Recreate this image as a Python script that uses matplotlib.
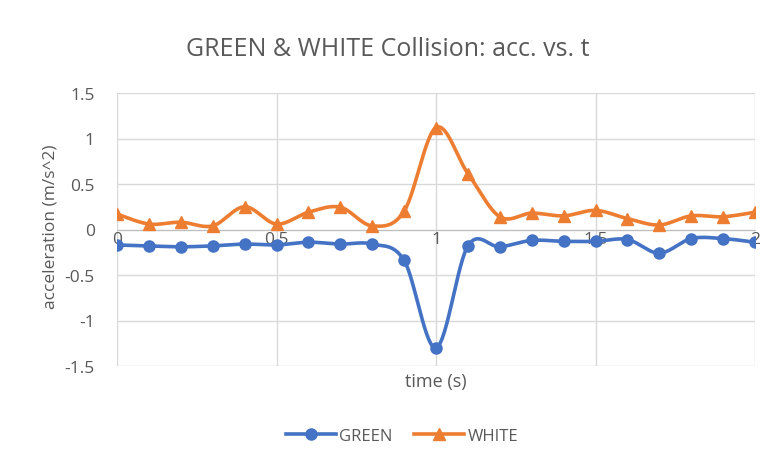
import numpy as np
import matplotlib
matplotlib.use("Agg")
import matplotlib.pyplot as plt

t = [0.0, 0.1, 0.2, 0.3, 0.4, 0.5, 0.6, 0.7, 0.8, 0.9, 1.0,
     1.1, 1.2, 1.3, 1.4, 1.5, 1.6, 1.7, 1.8, 1.9, 2.0]
green = [-0.17, -0.18, -0.19, -0.18, -0.16, -0.17, -0.14, -0.16, -0.16, -0.34, -1.30,
         -0.18, -0.19, -0.12, -0.13, -0.13, -0.11, -0.26, -0.10, -0.10, -0.14]
white = [0.17, 0.06, 0.08, 0.04, 0.25, 0.06, 0.19, 0.245, 0.04, 0.20, 1.12,
         0.615, 0.14, 0.18, 0.15, 0.21, 0.12, 0.05, 0.15, 0.14, 0.19]
xticks = [0, 0.5, 1, 1.5, 2]
xticklabels = ["0", "0.5", "1", "1.5", "2"]
yticks = [-1.5, -1, -0.5, 0, 0.5, 1, 1.5]
yticklabels = ["-1.5", "-1", "-0.5", "0", "0.5", "1", "1.5"]


def smooth(x, y, n=30):
    # Excel-like smoothing: cubic Bezier with Catmull-Rom control points
    x = np.asarray(x, float)
    y = np.asarray(y, float)
    xs, ys = [], []
    m = len(x)
    for i in range(m - 1):
        p0 = np.array([x[max(i - 1, 0)], y[max(i - 1, 0)]])
        p1 = np.array([x[i], y[i]])
        p2 = np.array([x[i + 1], y[i + 1]])
        p3 = np.array([x[min(i + 2, m - 1)], y[min(i + 2, m - 1)]])
        c1 = p1 + (p2 - p0) / 6.0
        c2 = p2 - (p3 - p1) / 6.0
        s = np.linspace(0, 1, n, endpoint=(i == m - 2))
        b = ((1 - s) ** 3)[:, None] * p1 + (3 * (1 - s) ** 2 * s)[:, None] * c1 \
            + (3 * (1 - s) * s ** 2)[:, None] * c2 + (s ** 3)[:, None] * p2
        xs.append(b[:, 0])
        ys.append(b[:, 1])
    return np.concatenate(xs), np.concatenate(ys)


plt.rcParams['font.family'] = ['Open Sans', 'DejaVu Sans']
grey = '#595959'
blue = '#4472C4'
orange = '#ED7D31'

fig = plt.figure(figsize=(7.69, 4.6), dpi=100)
ax = fig.add_axes([117 / 769, 1 - 367 / 460, (755 - 117) / 769, (367 - 94) / 460])

gx, gy = smooth(t, green)
wx, wy = smooth(t, white)
ax.plot(gx, gy, color=blue, lw=2.6, zorder=3, solid_capstyle='round')
ax.plot(t, green, 'o', color=blue, ms=8, zorder=4)
ax.plot(wx, wy, color=orange, lw=2.6, zorder=3, solid_capstyle='round')
ax.plot(t, white, '^', color=orange, ms=9, zorder=4)

# legend proxies
ax.plot([], [], '-o', color=blue, lw=2.6, ms=8, label='GREEN')
ax.plot([], [], '-^', color=orange, lw=2.6, ms=9, label='WHITE')

ax.set_xlim(0, 2)
ax.set_ylim(-1.5, 1.5)
ax.set_yticks(yticks)
ax.set_yticklabels(yticklabels)
ax.set_xticks(xticks)
ax.set_xticklabels(xticklabels)
ax.grid(True, color='#d9d9d9', lw=1)
ax.set_axisbelow(True)
for s in ax.spines.values():
    s.set_visible(False)
ax.spines['bottom'].set_visible(True)
ax.spines['bottom'].set_position(('data', 0))
ax.spines['bottom'].set_color('#bfbfbf')
ax.tick_params(axis='both', length=0, colors=grey, labelsize=12.5)
ax.tick_params(axis='x', pad=1)
ax.tick_params(axis='y', pad=16)

fig.text(51 / 769, 1 - 227 / 460, 'acceleration (m/s^2)', rotation=90, ha='center',
         va='center', color=grey, fontsize=12.5)
fig.text(436 / 769, 1 - 382 / 460, 'time (s)', ha='center', va='center',
         color=grey, fontsize=13)
fig.text(388 / 769, 1 - 50 / 460, 'GREEN & WHITE Collision: acc. vs. t', ha='center',
         va='center', color=grey, fontsize=18)

leg = fig.legend(loc='center', bbox_to_anchor=(402 / 769, 1 - 437 / 460), ncol=2,
                 frameon=False, fontsize=12, handlelength=3.0, columnspacing=1.3,
                 labelcolor=grey, handletextpad=0.2)

fig.savefig('out.png', dpi=100, facecolor='white')
